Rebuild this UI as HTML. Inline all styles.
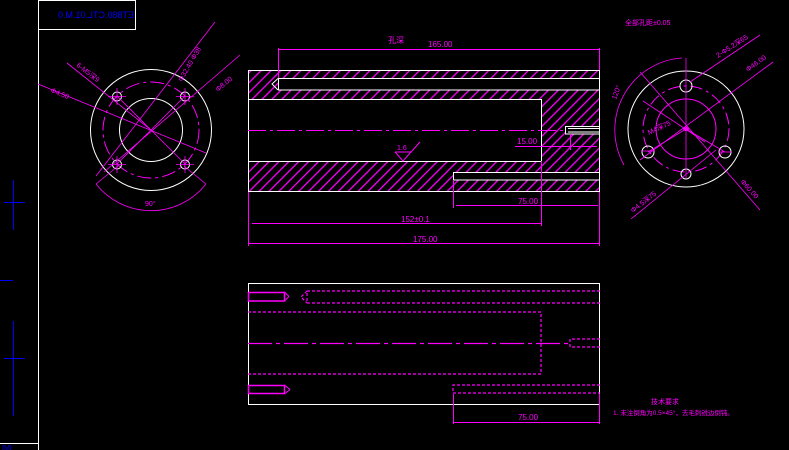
<!DOCTYPE html>
<html><head><meta charset="utf-8"><style>
html,body{margin:0;padding:0;background:#000;}
svg{display:block;}
text{font-family:"Liberation Sans","Noto Sans CJK SC",sans-serif;fill:#f0f;}
</style></head><body>
<svg width="789" height="450" viewBox="0 0 789 450" xmlns="http://www.w3.org/2000/svg">
<defs>
<pattern id="h" patternUnits="userSpaceOnUse" width="7" height="7" patternTransform="rotate(45)">
<line x1="3.5" y1="0" x2="3.5" y2="7" stroke="#f0f" stroke-width="1.3"/>
</pattern>
</defs>
<rect width="789" height="450" fill="#000"/>
<!-- frame -->
<line x1="38.5" y1="0" x2="38.5" y2="450" stroke="#fff"/>
<line x1="0" y1="443.5" x2="38" y2="443.5" stroke="#fff"/>
<rect x="38.5" y="0.5" width="97" height="29" fill="none" stroke="#fff"/>
<text x="0" y="0" font-size="9" style="fill:#00f" transform="translate(134,18) scale(-1,1)">ET880.CTL.01.M.0</text>
<g stroke="#00f" stroke-width="1">
<line x1="13.5" y1="180" x2="13.5" y2="230"/><line x1="4" y1="202.5" x2="25" y2="202.5"/>
<line x1="0" y1="280.5" x2="13" y2="280.5"/>
<line x1="13.5" y1="321" x2="13.5" y2="416"/><line x1="4" y1="358.5" x2="25" y2="358.5"/>
</g>
<text x="2" y="450" font-size="7" style="fill:#00f">IMI</text>

<!-- left circle view -->
<g fill="none">
<circle cx="151" cy="130" r="60.5" stroke="#fff"/>
<circle cx="151" cy="130" r="31.5" stroke="#fff"/>
<circle cx="151" cy="130" r="48" stroke="#f0f" stroke-dasharray="14 4 3 4"/>
<g stroke="#fff"><circle cx="117" cy="96.5" r="4.5"/><circle cx="185" cy="96.5" r="4.5"/><circle cx="117" cy="164.5" r="4.5"/><circle cx="185" cy="164.5" r="4.5"/></g>
<g stroke="#f0f" stroke-width="0.8">
<line x1="108" y1="96.5" x2="126" y2="96.5"/><line x1="117" y1="88" x2="117" y2="105"/>
<line x1="176" y1="96.5" x2="194" y2="96.5"/><line x1="185" y1="88" x2="185" y2="105"/>
<line x1="108" y1="164.5" x2="126" y2="164.5"/><line x1="117" y1="156" x2="117" y2="173"/>
<line x1="176" y1="164.5" x2="194" y2="164.5"/><line x1="185" y1="156" x2="185" y2="173"/>
<line x1="38" y1="84" x2="206" y2="153"/>
<line x1="67" y1="63" x2="151" y2="130"/>
<line x1="215" y1="22" x2="96" y2="176"/>
<line x1="240" y1="55" x2="104" y2="172"/>
<line x1="117" y1="96" x2="185" y2="164"/>
<line x1="185" y1="96" x2="117" y2="164"/>
<path d="M96,184 A70,70 0 0 0 206,184"/>
<line x1="96" y1="184" x2="118" y2="166"/><line x1="206" y1="184" x2="184" y2="166"/>
</g>
</g>
<text x="50" y="92" font-size="7" transform="rotate(22 50 92)">Φ4.50</text>
<text x="76" y="66" font-size="7" transform="rotate(38 76 66)">6-M5深9</text>
<text x="182" y="82" font-size="7" transform="rotate(-60 182 82)">Φ32.40 Φ38</text>
<text x="218" y="92" font-size="7" transform="rotate(-40 218 92)">Φ8.00</text>
<text x="145" y="206" font-size="7">90°</text>

<!-- top section view -->
<path fill="url(#h)" fill-rule="evenodd" d="M248,70H600V192H248V161.5H541V99H248Z M278,78.5H600V90H278Z M453,172.5H600V180H453Z M565,126.5H600V134H565Z"/>
<g fill="none" stroke="#fff" stroke-width="1">
<rect x="248.5" y="70.5" width="351" height="121"/>
<polyline points="248,99.5 541.5,99.5 541.5,161.5 248,161.5"/>
<polyline points="600,78.5 278.5,78.5 278.5,90 600,90"/>
<polyline points="278,78.5 272,84 278,90"/>
<polyline points="600,172.5 453.5,172.5 453.5,180 600,180"/>
<polyline points="600,126.5 565.5,126.5 565.5,134 600,134"/>
<line x1="568" y1="128.5" x2="600" y2="128.5"/><line x1="568" y1="132" x2="600" y2="132"/>
</g>
<g stroke="#f0f" fill="none" stroke-width="1">
<line x1="248" y1="130.5" x2="565" y2="130.5" stroke-dasharray="18 4 3 4"/>
<line x1="278.5" y1="49.5" x2="599" y2="49.5"/><line x1="278.5" y1="48" x2="278.5" y2="78"/><line x1="599.5" y1="48" x2="599.5" y2="70"/>
<line x1="248" y1="243.5" x2="600" y2="243.5"/><line x1="248.5" y1="192" x2="248.5" y2="246"/><line x1="599.5" y1="192" x2="599.5" y2="246"/>
<line x1="252" y1="223.5" x2="541" y2="223.5"/><line x1="541.5" y1="161" x2="541.5" y2="226"/>
<line x1="456" y1="205.5" x2="598" y2="205.5"/><line x1="453.5" y1="180" x2="453.5" y2="208"/>
<line x1="515" y1="146.5" x2="570" y2="146.5"/><line x1="573" y1="146.5" x2="597" y2="146.5"/><line x1="570.5" y1="134" x2="570.5" y2="150"/>
<polyline points="395,152 403,161 411,152 395,152"/><line x1="411" y1="152" x2="420" y2="142"/>
</g>
<text x="388" y="43" font-size="8">孔深</text>
<text x="428" y="47" font-size="8">165.00</text>
<text x="413" y="242" font-size="8">175.00</text>
<text x="401" y="222" font-size="8">152±0.1</text>
<text x="518" y="204" font-size="8">75.00</text>
<text x="517" y="144" font-size="8">15.00</text>
<text x="397" y="150" font-size="7">1.6</text>

<!-- bottom view -->
<rect x="248.5" y="283.5" width="351" height="121" fill="none" stroke="#fff"/>
<g stroke="#f0f" fill="none" stroke-width="1">
<rect x="248.5" y="292.5" width="36" height="8.5" stroke-width="1.5"/><line x1="284.5" y1="292" x2="289" y2="296.5"/><line x1="284.5" y1="301" x2="289" y2="296.5"/>
<rect x="248.5" y="385.5" width="36" height="8" stroke-width="1.5"/><line x1="284.5" y1="385" x2="290" y2="389.5"/><line x1="284.5" y1="394" x2="290" y2="389.5"/>
<g stroke-dasharray="3 2" stroke-width="1.2">
<polyline points="600,291 307,291 307,303 600,303"/>
<polyline points="248,312 541,312 541,374 248,374"/>
<polyline points="600,385 453,385 453,393 600,393"/>
<polyline points="600,339 570,339 570,347 600,347"/>
<polyline points="307,291 301,297 307,303"/>
</g>
<line x1="248" y1="343.5" x2="570" y2="343.5" stroke-dasharray="24 4 4 4" stroke-width="1.2"/>
<line x1="453.5" y1="394" x2="453.5" y2="424"/><line x1="599.5" y1="394" x2="599.5" y2="424"/>
<line x1="454" y1="422.5" x2="599" y2="422.5"/>
</g>
<text x="518" y="420" font-size="8">75.00</text>

<!-- right circle view -->
<g fill="none">
<circle cx="686" cy="129" r="58" stroke="#fff"/>
<circle cx="686" cy="129" r="43" stroke="#f0f" stroke-dasharray="12 4 3 4"/>
<circle cx="686" cy="129" r="30" stroke="#f0f"/>
<g stroke="#fff"><circle cx="686" cy="86" r="6"/><circle cx="686" cy="174" r="5"/><circle cx="648" cy="152" r="6"/><circle cx="725" cy="152" r="6"/></g>
<g stroke="#f0f" stroke-width="0.8">
<line x1="686" y1="58" x2="686" y2="178"/>
<line x1="760" y1="35" x2="690" y2="82"/>
<line x1="773" y1="62" x2="640" y2="160"/>
<line x1="640" y1="72" x2="760" y2="210"/>
<line x1="631" y1="219" x2="716" y2="150"/>
<line x1="643" y1="101" x2="705" y2="142"/>
<line x1="648" y1="152" x2="686" y2="129"/>
<line x1="725" y1="152" x2="686" y2="129"/>
<line x1="641" y1="151" x2="655" y2="151"/><line x1="718" y1="152" x2="732" y2="152"/>
<path d="M682,58 A72,72 0 0 0 624,165"/>
</g>
<ellipse cx="686" cy="129" rx="3" ry="2" fill="#f0f"/>
</g>
<text x="625" y="25" font-size="7">全部孔距±0.05</text>
<text x="718" y="58" font-size="7" transform="rotate(-33 718 58)">2-Φ5.2深65</text>
<text x="748" y="72" font-size="7" transform="rotate(-36 748 72)">Φ46.00</text>
<text x="740" y="182" font-size="7" transform="rotate(48 740 182)">Φ60.00</text>
<text x="633" y="213" font-size="7" transform="rotate(-38 633 213)">Φ4.5深75</text>
<text x="649" y="135" font-size="7" transform="rotate(-25 649 135)">M4深75</text>
<text x="616" y="100" font-size="7" transform="rotate(-70 616 100)">120°</text>

<!-- notes -->
<text x="651" y="404" font-size="7">技术要求</text>
<text x="613" y="415" font-size="6.5">1. 未注倒角为0.5×45°，去毛刺锐边倒钝。</text>
</svg>
</body></html>
